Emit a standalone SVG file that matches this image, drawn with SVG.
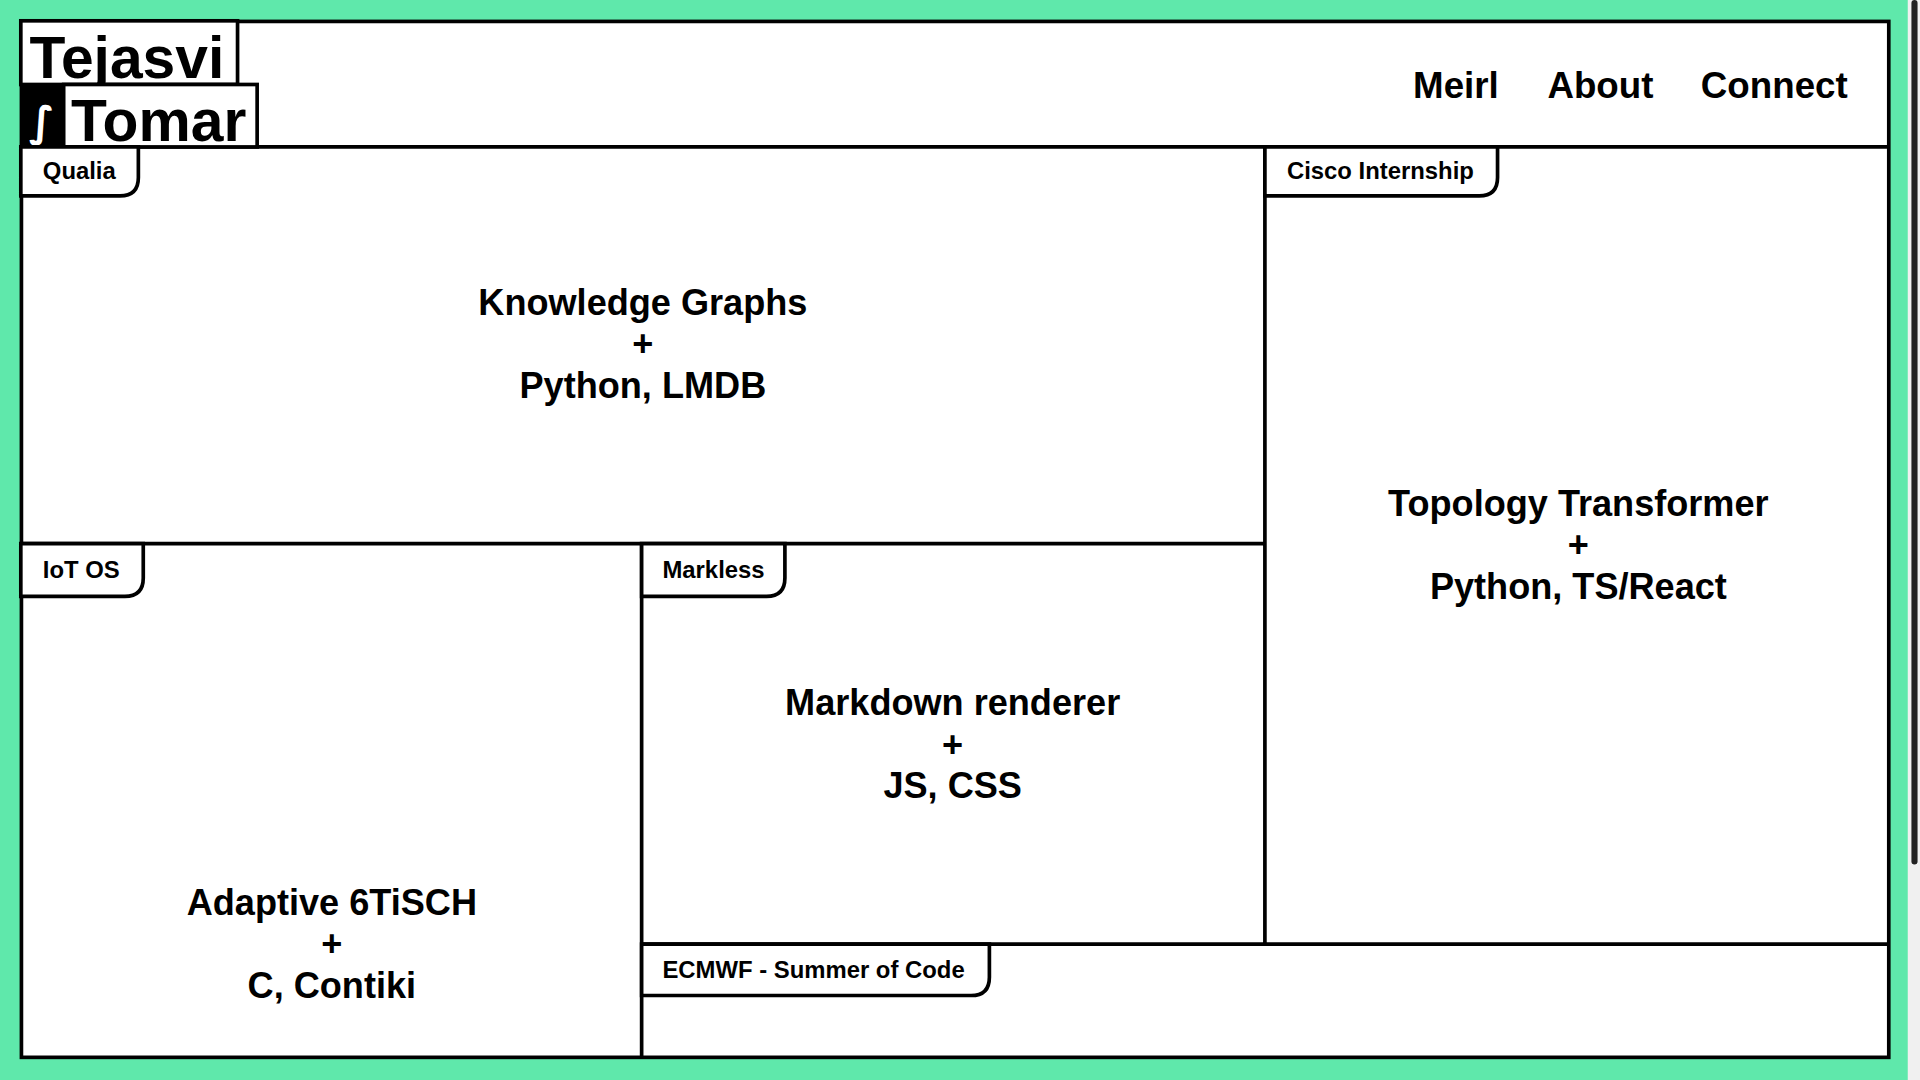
<svg xmlns="http://www.w3.org/2000/svg" width="1920" height="1080" viewBox="0 0 1920 1080">
<style>
.ln{stroke:#000;stroke-width:3;fill:none}
.tab{fill:#fff;stroke:#000;stroke-width:3}
.tt{font-family:"Liberation Sans",Arial,sans-serif;font-weight:bold;font-size:19.5px;fill:#000}
.big{font-family:"Liberation Sans",Arial,sans-serif;font-weight:bold;font-size:29.5px;fill:#000;text-anchor:middle}
.nav{font-family:"Liberation Sans",Arial,sans-serif;font-weight:bold;font-size:30px;fill:#000;text-anchor:middle}
.logo{font-family:"Liberation Sans",Arial,sans-serif;font-weight:bold;font-size:48px;fill:#000}
</style>
<rect width="1920" height="1080" fill="#5fe8ab"/>
<g transform="scale(1.22449)">
<rect x="1558" y="0" width="10" height="882" fill="#f0f0f0"/>
<rect x="1561" y="0" width="5" height="706" rx="2.5" fill="#222"/>
<rect x="17.5" y="17.5" width="1525" height="846" fill="#fff" stroke="#000" stroke-width="3"/>
<g id="connectors">
<path class="ln" d="M17 120H1543M1033 120V771M17 444H1033M524 444V864M524 771H1543"/>
</g>
<g id="logo">
<rect x="17" y="17" width="177" height="52" fill="#fff" stroke="#000" stroke-width="3"/>
<text class="logo" x="24" y="64">Tejasvi</text>
<rect x="52" y="69" width="158" height="51" fill="#fff" stroke="#000" stroke-width="3"/>
<rect x="17" y="69" width="35" height="51" fill="#000"/>
<text x="34" y="111" font-family="DejaVu Sans,sans-serif" font-weight="bold" font-size="34" fill="#fff" text-anchor="middle">∫</text>
<text class="logo" x="58" y="115">Tomar</text>
</g>
<g id="nav">
<text class="nav" x="1189" y="80">Meirl</text>
<text class="nav" x="1307" y="80">About</text>
<text class="nav" x="1449" y="80">Connect</text>
</g>
<g id="qualia">
<path class="tab" d="M17 120H113V145Q113 160 98 160H17Z"/>
<text class="tt" x="35" y="146">Qualia</text>
<text class="big" x="525" y="257">Knowledge Graphs</text>
<text class="big" x="525" y="291">+</text>
<text class="big" x="525" y="325">Python, LMDB</text>
</g>
<g id="cisco">
<path class="tab" d="M1033 120H1223V145Q1223 160 1208 160H1033Z"/>
<text class="tt" x="1051" y="146">Cisco Internship</text>
<text class="big" x="1289" y="421">Topology Transformer</text>
<text class="big" x="1289" y="455">+</text>
<text class="big" x="1289" y="489">Python, TS/React</text>
</g>
<g id="iotos">
<path class="tab" d="M17 444H117V472Q117 487 102 487H17Z"/>
<text class="tt" x="35" y="472">IoT OS</text>
<text class="big" x="271" y="747">Adaptive 6TiSCH</text>
<text class="big" x="271" y="781">+</text>
<text class="big" x="271" y="815">C, Contiki</text>
</g>
<g id="markless">
<path class="tab" d="M524 444H641V472Q641 487 626 487H524Z"/>
<text class="tt" x="541" y="472">Markless</text>
<text class="big" x="778" y="584">Markdown renderer</text>
<text class="big" x="778" y="618">+</text>
<text class="big" x="778" y="652">JS, CSS</text>
</g>
<g id="ecmwf">
<path class="tab" d="M524 771H808V798Q808 813 793 813H524Z"/>
<text class="tt" x="541" y="799">ECMWF - Summer of Code</text>
</g>
</g>
</svg>
